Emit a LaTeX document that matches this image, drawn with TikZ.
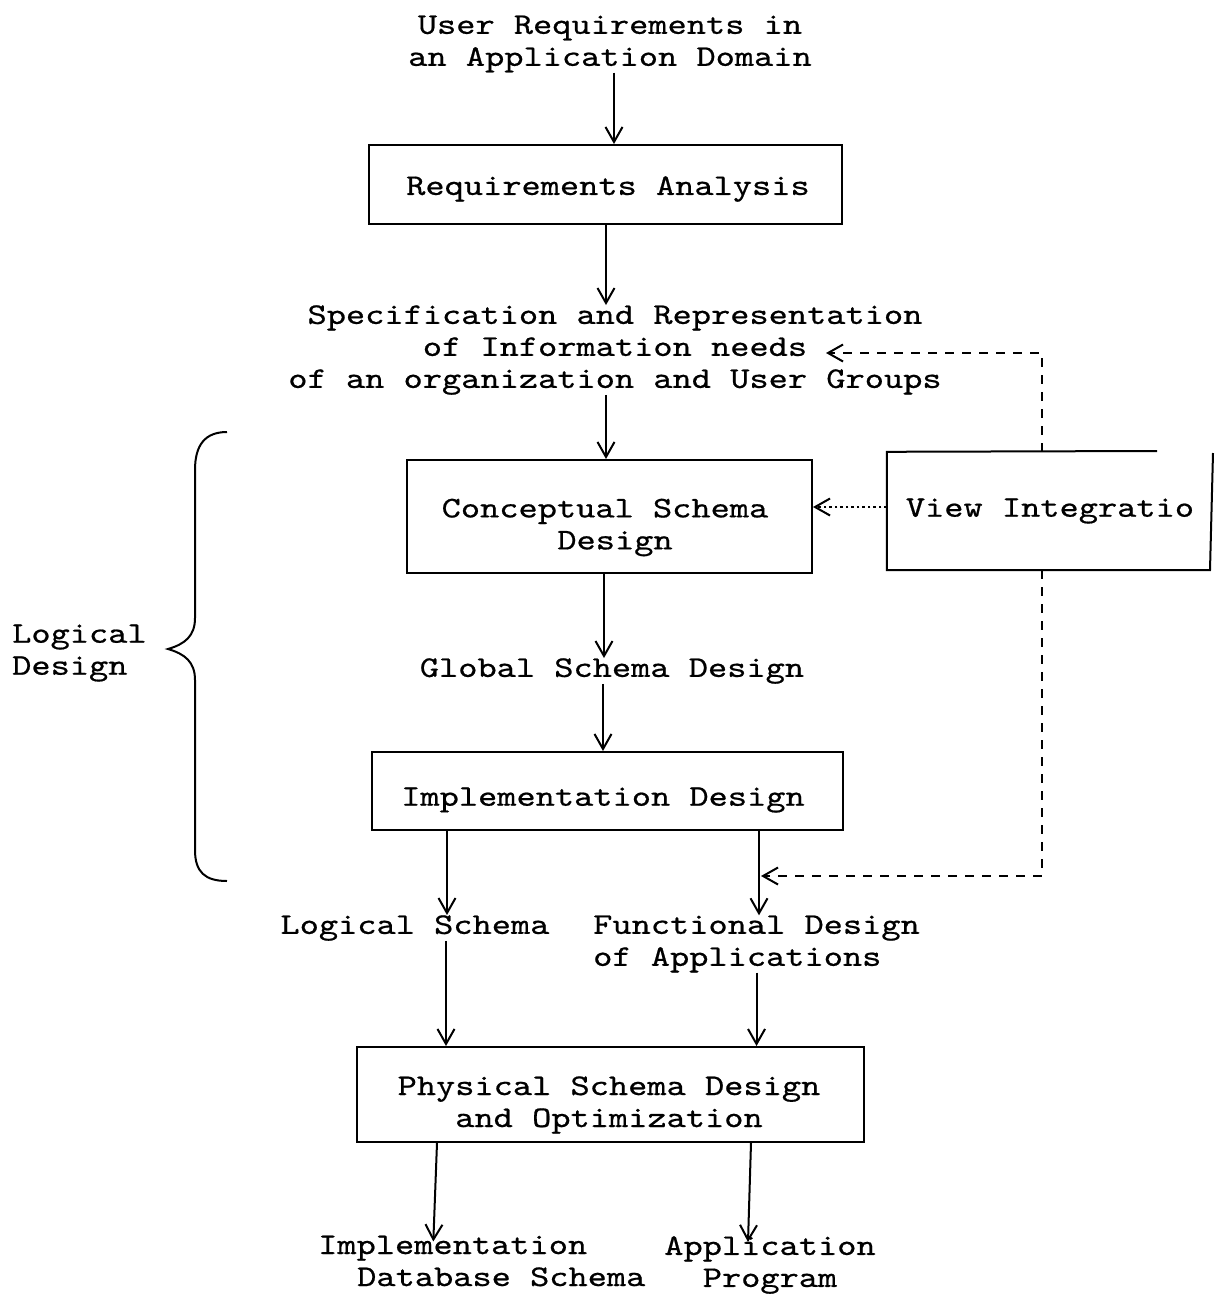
\documentclass[tikz,border=0pt]{standalone}
\usepackage{fontspec}
\setmonofont{lmmono10-regular.otf}[FakeStretch=1.22,FakeBold=0.6]
\usetikzlibrary{arrows.meta,calc}
\begin{document}
\begin{tikzpicture}[x=1pt,y=-1pt,
  every node/.style={font=\ttfamily\fontsize{30}{32}\selectfont, inner sep=0pt},
  box/.style={draw, line width=2pt},
  tip/.style={-{Straight Barb[length=15pt,width=17pt,line width=2pt]}},
  arr/.style={line width=2pt, tip},
  dasharr/.style={line width=1.6pt, dash pattern=on 9pt off 8pt, tip},
  dotarr/.style={line width=1.2pt, dash pattern=on 2.5pt off 3pt, tip}]
\fill[white] (0,0) rectangle (1221,1294);
\useasboundingbox (0,0) rectangle (1221,1294);

% boxes
\node (req) [box, minimum width=473pt, minimum height=79pt] at (605.5,184.5) {};
\node (concept) [box, minimum width=405pt, minimum height=113pt] at (609.5,516.5) {};
\node (impl) [box, minimum width=471pt, minimum height=78pt] at (607.5,791) {};
\node (phys) [box, minimum width=507pt, minimum height=95pt] at (610.5,1094.5) {};
\node (view) [minimum width=326pt, minimum height=118pt] at (1050,511) {};

% texts
\node (title) [align=center] at (610,44) {User Requirements in\\an Application Domain};
\node (reqT) at (608,189) {Requirements Analysis};
\node (spec) [align=center] at (615,350) {Specification and Representation\\of Information needs\\of an organization and User Groups};
\node (conceptT) [align=center] at (605,527.5) {Conceptual Schema\\\hspace*{20pt}Design};
\node (global) at (612,671) {Global Schema Design};
\node (implT) at (603,800) {Implementation Design};
\node (viewT) at (1050,511) {View Integratio};
\node (ls) at (415,928) {Logical Schema};
\node (fd) [align=left, anchor=west] at (593,944) {Functional Design\\of Applications};
\node (physT) [align=center] at (609,1105) {Physical Schema Design\\and Optimization};
\node (ids) [align=left, anchor=west] at (318,1261) {Implementation\\\hspace*{39pt}Database Schema};
\node (ap) [align=center] at (770,1265) {Application\\Program};
\node (ld) [align=left, anchor=west] at (12,653) {Logical\\Design};

% open box of View Integration
\draw[line width=2pt] (1157,451) -- (view.north west) -- (view.south west) -- (1210,570) -- (1213,453);

% brace
\draw[line width=2pt] (227,432) .. controls (205,432) and (195,445) .. (195,470) -- (195,618)
  .. controls (195,636) and (185,644) .. (168,649)
  .. controls (185,654) and (195,662) .. (195,680) -- (195,850)
  .. controls (195,872) and (205,881) .. (227,881);

% arrows
\draw[arr] ([xshift=4pt]title.south) -- ([xshift=4pt]title.south |- req.north);
\draw[arr] ([xshift=0.5pt]req.south) -- ([xshift=0.5pt]req.south |- spec.north);
\draw[arr] ([xshift=-9pt]spec.south) -- ([xshift=-9pt]spec.south |- concept.north);
\draw[arr] ([xshift=-5.5pt]concept.south) -- ([xshift=-5.5pt]concept.south |- global.north);
\draw[arr] ([xshift=-9pt]global.south) -- ([xshift=-9pt]global.south |- impl.north);
\draw[arr] ([xshift=-160.5pt]impl.south) -- ([xshift=-160.5pt]impl.south |- ls.north);
\draw[arr] ([xshift=151.5pt]impl.south) -- ([xshift=151.5pt]impl.south |- fd.north);
\draw[arr] ([xshift=31pt]ls.south) -- ([xshift=31pt]ls.south |- phys.north);
\draw[arr] (fd.south) -- (fd.south |- phys.north);
\draw[arr] ([xshift=-173.5pt]phys.south) -- ([xshift=-48.5pt,yshift=-6pt]ids.north);
\draw[arr] ([xshift=140.5pt]phys.south) -- ([xshift=-22pt,yshift=-6pt]ap.north);

% dashed / dotted feedback
\draw[dasharr] ([xshift=155pt]view.north west) |- ([xshift=211pt,yshift=-3pt]spec.center);
\draw[dotarr] ([yshift=4pt]view.west) -- ([yshift=4pt]view.west -| concept.east);
\coordinate (fdj) at (761,876);
\draw[dasharr] ([xshift=155pt]view.south west) |- (fdj);
\end{tikzpicture}
\end{document}
